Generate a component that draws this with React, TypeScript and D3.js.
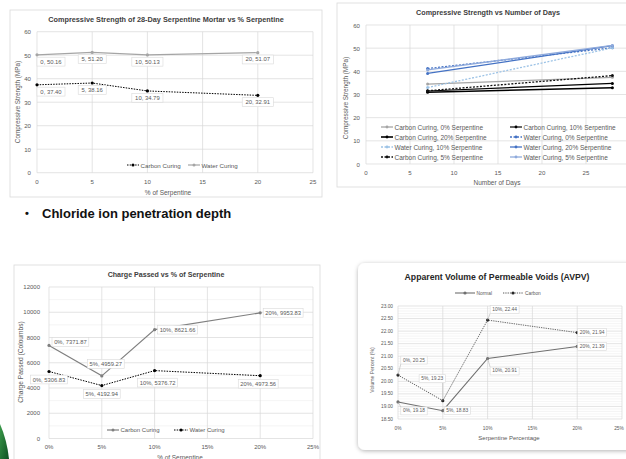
import * as d3 from "d3";

const FONT = "'Liberation Sans', Arial, Helvetica, sans-serif";
const TEXT = "#595959";
const TITLE = "#404040";
const GRID = "#D9D9D9";
const GRID_MINOR = "#EFEFEF";
const BORDER = "#D9D9D9";

// 28-day strength vs % serpentine
const SERP_PCT = [0, 5, 10, 20];
const CS28_CARBON = [37.4, 38.16, 34.79, 32.91];
const CS28_WATER = [50.16, 51.2, 50.13, 51.07];
const CS_Y_TICKS = [0, 10, 20, 30, 40, 50, 60];
const PCT_X_TICKS = [0, 5, 10, 15, 20, 25];

// strength vs number of days
const DAYS = [7, 28];
const DAY_X_TICKS = [0, 5, 10, 15, 20, 25, 30];
const DAY_SERIES = [
  "Carbon Curing, 0% Serpentine",
  "Carbon Curing, 10% Serpentine",
  "Carbon Curing, 20% Serpentine",
  "Water Curing, 0% Serpentine",
  "Water Curing, 10% Serpentine",
  "Water Curing, 20% Serpentine",
  "Carbon Curing, 5% Serpentine",
  "Water Curing, 5% Serpentine",
];
const DAY_VALUES = [
  [34.5, 37.4],
  [31.5, 34.79],
  [31.0, 32.91],
  [41.2, 50.16],
  [33.0, 50.13],
  [39.1, 51.07],
  [31.6, 38.16],
  [40.6, 51.2],
];

// charge passed
const RCPT_CARBON = [7371.87, 4959.27, 8621.66, 9953.83];
const RCPT_WATER = [5306.83, 4192.94, 5376.72, 4973.56];
const RCPT_Y_TICKS = [0, 2000, 4000, 6000, 8000, 10000, 12000];

// AVPV
const AVPV_NORMAL = [19.18, 18.83, 20.91, 21.39];
const AVPV_CARBON = [20.25, 19.23, 22.44, 21.94];
const AVPV_Y_TICKS = [18.5, 19, 19.5, 20, 20.5, 21, 21.5, 22, 22.5, 23];

// styles (kept apart from data)
const DAY_STYLES = [
  { color: "#A5A5A5", dash: "", w: 1.3 },
  { color: "#000000", dash: "", w: 1.2 },
  { color: "#000000", dash: "", w: 1.6 },
  { color: "#4472C4", dash: "2,1.5", w: 1.3 },
  { color: "#9DC3E6", dash: "2,1.5", w: 1.3 },
  { color: "#4472C4", dash: "", w: 1.3 },
  { color: "#111111", dash: "2,1.5", w: 1.3 },
  { color: "#8FAADC", dash: "", w: 1.3 },
];

const tw = (s: string, fs: number) => s.length * fs * 0.53;

function LabelBox({ cx, cy, text, fs, anchor = "middle" }: { cx: number; cy: number; text: string; fs: number; anchor?: string }) {
  const w = tw(text, fs) + 3;
  const h = fs + 3;
  const left = anchor === "start" ? cx : cx - w / 2;
  return (
    <g>
      <rect x={left} y={cy - h / 2} width={w} height={h} fill="white" stroke={BORDER} strokeWidth={0.6} />
      <text x={left + w / 2} y={cy} textAnchor="middle" dominantBaseline="central" fontSize={fs} fill={TEXT}>{text}</text>
    </g>
  );
}

function Grid({ x, y, xt, yt, minor = [] }: any) {
  const [x0, x1] = x.range();
  const [y0, y1] = y.range();
  return (
    <g>
      {minor.map((v: number) => <line key={"m" + v} x1={x0} x2={x1} y1={y(v)} y2={y(v)} stroke={GRID_MINOR} strokeWidth={0.6} />)}
      {yt.map((v: number) => <line key={"y" + v} x1={x0} x2={x1} y1={y(v)} y2={y(v)} stroke={GRID} strokeWidth={0.7} />)}
      {xt.map((v: number) => <line key={"x" + v} x1={x(v)} x2={x(v)} y1={y0} y2={y1} stroke={GRID} strokeWidth={0.7} />)}
    </g>
  );
}

function StrengthChart() {
  const x = d3.scaleLinear().domain([0, 25]).range([37, 313]);
  const y = d3.scaleLinear().domain([0, 60]).range([172.7, 31.7]);
  const line = d3.line<number>().x((_, i) => x(SERP_PCT[i])).y(d => y(d));
  const fmt = (p: number, v: number) => `${p}, ${v.toFixed(2)}`;
  return (
    <g>
      <rect x={10} y={10} width={312} height={187} fill="white" stroke={BORDER} strokeWidth={0.8} />
      <text x={166} y={19} textAnchor="middle" dominantBaseline="central" fontSize={7.3} fontWeight="bold" fill={TITLE}>
        Compressive Strength of 28-Day Serpentine Mortar vs % Serpentine
      </text>
      <Grid x={x} y={y} xt={PCT_X_TICKS} yt={CS_Y_TICKS} />
      {CS_Y_TICKS.map(v => <text key={v} x={31} y={y(v)} textAnchor="end" dominantBaseline="central" fontSize={6.1} fill={TEXT}>{v}</text>)}
      {PCT_X_TICKS.map(v => <text key={v} x={x(v)} y={181} textAnchor="middle" dominantBaseline="central" fontSize={6.1} fill={TEXT}>{v}</text>)}
      <text x={168} y={192} textAnchor="middle" dominantBaseline="central" fontSize={6.5} fill={TEXT}>% of Serpentine</text>
      <text transform={`translate(17,102) rotate(-90)`} textAnchor="middle" dominantBaseline="central" fontSize={6.4} fill={TEXT}>Compressive Strength (MPa)</text>
      <path d={line(CS28_WATER) || ""} fill="none" stroke="#A5A5A5" strokeWidth={1.2} />
      <path d={line(CS28_CARBON) || ""} fill="none" stroke="#000" strokeWidth={1} strokeDasharray="1.5,1.2" />
      {CS28_WATER.map((v, i) => <circle key={"w" + i} cx={x(SERP_PCT[i])} cy={y(v)} r={1.6} fill="#A5A5A5" />)}
      {CS28_CARBON.map((v, i) => <circle key={"c" + i} cx={x(SERP_PCT[i])} cy={y(v)} r={1.6} fill="#000" />)}
      {CS28_WATER.map((v, i) => <LabelBox key={"lw" + i} cx={x(SERP_PCT[i])} cy={y(v) + 6.8} text={fmt(SERP_PCT[i], v)} fs={5.9} anchor={i === 0 ? "start" : "middle"} />)}
      {CS28_CARBON.map((v, i) => <LabelBox key={"lc" + i} cx={x(SERP_PCT[i])} cy={y(v) + 6.8} text={fmt(SERP_PCT[i], v)} fs={5.9} anchor={i === 0 ? "start" : "middle"} />)}
      <g fontSize={6.2} fill={TEXT}>
        <line x1={127} x2={139} y1={165} y2={165} stroke="#000" strokeDasharray="1.5,1.2" />
        <circle cx={133} cy={165} r={1.5} fill="#000" />
        <text x={140.5} y={165} dominantBaseline="central">Carbon Curing</text>
        <line x1={188} x2={200} y1={165} y2={165} stroke="#A5A5A5" strokeWidth={1.2} />
        <circle cx={194} cy={165} r={1.5} fill="#A5A5A5" />
        <text x={201.5} y={165} dominantBaseline="central">Water Curing</text>
      </g>
    </g>
  );
}

function DaysChart() {
  const x = d3.scaleLinear().domain([0, 30]).range([366, 630]);
  const y = d3.scaleLinear().domain([0, 60]).range([164, 25]);
  const line = d3.line<number>().x((_, i) => x(DAYS[i])).y(d => y(d));
  const rows = [127, 137, 147, 157];
  return (
    <g>
      <rect x={337} y={3} width={300} height={184} fill="white" stroke={BORDER} strokeWidth={0.8} />
      <text x={488} y={12} textAnchor="middle" dominantBaseline="central" fontSize={7.2} fontWeight="bold" fill={TITLE}>
        Compressive Strength vs Number of Days
      </text>
      <Grid x={x} y={y} xt={DAY_X_TICKS} yt={CS_Y_TICKS} />
      {CS_Y_TICKS.map(v => <text key={v} x={360} y={y(v)} textAnchor="end" dominantBaseline="central" fontSize={6.1} fill={TEXT}>{v}</text>)}
      {DAY_X_TICKS.filter(v => x(v) < 620).map(v => <text key={v} x={x(v)} y={172} textAnchor="middle" dominantBaseline="central" fontSize={6.1} fill={TEXT}>{v}</text>)}
      <text x={497} y={182} textAnchor="middle" dominantBaseline="central" fontSize={6.5} fill={TEXT}>Number of Days</text>
      <text transform={`translate(345,98) rotate(-90)`} textAnchor="middle" dominantBaseline="central" fontSize={6.4} fill={TEXT}>Compressive Strength (MPa)</text>
      {DAY_VALUES.map((vals, s) => (
        <g key={s}>
          <path d={line(vals) || ""} fill="none" stroke={DAY_STYLES[s].color} strokeWidth={DAY_STYLES[s].w} strokeDasharray={DAY_STYLES[s].dash || undefined} />
          {vals.map((v, i) => <circle key={i} cx={x(DAYS[i])} cy={y(v)} r={1.5} fill={DAY_STYLES[s].color} />)}
        </g>
      ))}
      {DAY_SERIES.map((name, s) => {
        const col = s % 2;
        const ly = rows[Math.floor(s / 2)];
        const lx = col === 0 ? 381 : 510;
        const st = DAY_STYLES[s];
        return (
          <g key={name}>
            <line x1={lx} x2={lx + 12} y1={ly} y2={ly} stroke={st.color} strokeWidth={st.w} strokeDasharray={st.dash || undefined} />
            <circle cx={lx + 6} cy={ly} r={1.4} fill={st.color} />
            <text x={lx + 13.5} y={ly} dominantBaseline="central" fontSize={6.5} fill={TEXT}>{name}</text>
          </g>
        );
      })}
    </g>
  );
}

function ChargeChart() {
  const x = d3.scaleLinear().domain([0, 25]).range([49, 313]);
  const y = d3.scaleLinear().domain([0, 12000]).range([438.5, 287]);
  const line = d3.line<number>().x((_, i) => x(SERP_PCT[i])).y(d => y(d));
  const fmt = (p: number, v: number) => `${p}%, ${v.toFixed(2)}`;
  const minor = [1000, 3000, 5000, 7000, 9000, 11000];
  const carbonOff = [[3, -3.5, "start"], [4, -12, "middle"], [3, 0, "start"], [3, 0, "start"]];
  const waterOff = [[0, 8, "middle"], [0, 8.5, "middle"], [3, 12, "middle"], [-2, 8, "middle"]];
  return (
    <g>
      <rect x={14} y={265} width={306} height={200} fill="white" stroke={BORDER} strokeWidth={0.8} />
      <text x={166} y={275} textAnchor="middle" dominantBaseline="central" fontSize={7.1} fontWeight="bold" fill={TITLE}>
        Charge Passed vs % of Serpentine
      </text>
      <Grid x={x} y={y} xt={PCT_X_TICKS} yt={RCPT_Y_TICKS} minor={minor} />
      {RCPT_Y_TICKS.map(v => <text key={v} x={40} y={y(v)} textAnchor="end" dominantBaseline="central" fontSize={6} fill={TEXT}>{v}</text>)}
      {PCT_X_TICKS.map(v => <text key={v} x={x(v)} y={447} textAnchor="middle" dominantBaseline="central" fontSize={6} fill={TEXT}>{v}%</text>)}
      <text x={180} y={457} textAnchor="middle" dominantBaseline="central" fontSize={6.4} fill={TEXT}>% of Serpentine</text>
      <text transform={`translate(20,362) rotate(-90)`} textAnchor="middle" dominantBaseline="central" fontSize={6.6} fill={TEXT}>Charge Passed (Coloumbs)</text>
      <path d={line(RCPT_CARBON) || ""} fill="none" stroke="#7F7F7F" strokeWidth={1.2} />
      <path d={line(RCPT_WATER) || ""} fill="none" stroke="#000" strokeWidth={1} strokeDasharray="1.5,1.2" />
      {RCPT_CARBON.map((v, i) => <circle key={"c" + i} cx={x(SERP_PCT[i])} cy={y(v)} r={1.6} fill="#7F7F7F" />)}
      {RCPT_WATER.map((v, i) => <circle key={"w" + i} cx={x(SERP_PCT[i])} cy={y(v)} r={1.6} fill="#000" />)}
      {RCPT_CARBON.map((v, i) => <LabelBox key={"lc" + i} cx={x(SERP_PCT[i]) + (carbonOff[i][0] as number)} cy={y(v) + (carbonOff[i][1] as number)} text={fmt(SERP_PCT[i], v)} fs={5.8} anchor={carbonOff[i][2] as string} />)}
      {RCPT_WATER.map((v, i) => <LabelBox key={"lw" + i} cx={x(SERP_PCT[i]) + (waterOff[i][0] as number)} cy={y(v) + (waterOff[i][1] as number)} text={fmt(SERP_PCT[i], v)} fs={5.8} anchor={waterOff[i][2] as string} />)}
      <g fontSize={6} fill={TEXT}>
        <line x1={107} x2={119} y1={430} y2={430} stroke="#7F7F7F" strokeWidth={1.2} />
        <circle cx={113} cy={430} r={1.5} fill="#7F7F7F" />
        <text x={120.5} y={430} dominantBaseline="central">Carbon Curing</text>
        <line x1={174} x2={188} y1={430} y2={430} stroke="#000" strokeDasharray="1.5,1.2" />
        <circle cx={181} cy={430} r={1.5} fill="#000" />
        <text x={189.5} y={430} dominantBaseline="central">Water Curing</text>
      </g>
    </g>
  );
}

function AvpvChart() {
  const x = d3.scaleLinear().domain([0, 25]).range([398, 622]);
  const y = d3.scaleLinear().domain([18.5, 23]).range([419, 306]);
  const line = d3.line<number>().x((_, i) => x(SERP_PCT[i])).y(d => y(d));
  const fmt = (p: number, v: number) => `${p}%, ${v.toFixed(2)}`;
  const minor: number[] = [];
  AVPV_Y_TICKS.slice(0, -1).forEach(t => [0.1, 0.2, 0.3, 0.4].forEach(k => minor.push(t + k)));
  const carbonOff = [[16, -15], [-10.5, -22], [17, -10.5], [15, 0]];
  const normalOff = [[16, 9], [14.5, 0], [17, 12.5], [15, 0]];
  const fs = 4.9;
  const label = (v: number, i: number, off: number[], key: string) => {
    const px = x(SERP_PCT[i]), py = y(v);
    const cx = px + off[0], cy = py + off[1];
    const text = fmt(SERP_PCT[i], v);
    const w = tw(text, fs) + 3, h = fs + 3;
    const ex = Math.max(cx - w / 2, Math.min(cx + w / 2, px));
    const ey = Math.max(cy - h / 2, Math.min(cy + h / 2, py));
    const lead = Math.hypot(ex - px, ey - py) > 4;
    return (
      <g key={key}>
        {lead && <line x1={px} y1={py} x2={ex} y2={ey} stroke="#A6A6A6" strokeWidth={0.5} />}
        <LabelBox cx={cx} cy={cy} text={text} fs={fs} />
      </g>
    );
  };
  return (
    <g>
      <defs>
        <filter id="shadow" x="-10%" y="-10%" width="120%" height="120%">
          <feDropShadow dx={0} dy={1} stdDeviation={2.2} floodColor="#000" floodOpacity={0.3} />
        </filter>
      </defs>
      <rect x={358} y={263} width={290} height={187} rx={7} fill="white" filter="url(#shadow)" />
      <text x={497} y={277} textAnchor="middle" dominantBaseline="central" fontSize={8.7} fontWeight="bold" fill="#262626">
        Apparent Volume of Permeable Voids (AVPV)
      </text>
      <Grid x={x} y={y} xt={PCT_X_TICKS} yt={AVPV_Y_TICKS} minor={minor} />
      {AVPV_Y_TICKS.map(v => <text key={v} x={393} y={y(v)} textAnchor="end" dominantBaseline="central" fontSize={4.8} fill={TEXT}>{v.toFixed(2)}</text>)}
      {PCT_X_TICKS.map(v => <text key={v} x={Math.min(x(v), 619)} y={428} textAnchor="middle" dominantBaseline="central" fontSize={4.8} fill={TEXT}>{v}%</text>)}
      <text x={509} y={438} textAnchor="middle" dominantBaseline="central" fontSize={6} fill={TEXT}>Serpentine Percentage</text>
      <text transform={`translate(372,370) rotate(-90)`} textAnchor="middle" dominantBaseline="central" fontSize={5.1} fill={TEXT}>Volume Percent (%)</text>
      <path d={line(AVPV_NORMAL) || ""} fill="none" stroke="#6F6F6F" strokeWidth={1.1} />
      <path d={line(AVPV_CARBON) || ""} fill="none" stroke="#595959" strokeWidth={0.9} strokeDasharray="1.3,1" />
      {AVPV_NORMAL.map((v, i) => <circle key={"n" + i} cx={x(SERP_PCT[i])} cy={y(v)} r={1.6} fill="#6F6F6F" />)}
      {AVPV_CARBON.map((v, i) => <circle key={"c" + i} cx={x(SERP_PCT[i])} cy={y(v)} r={1.6} fill="#262626" />)}
      {AVPV_CARBON.map((v, i) => label(v, i, carbonOff[i], "lc" + i))}
      {AVPV_NORMAL.map((v, i) => label(v, i, normalOff[i], "ln" + i))}
      <g fontSize={4.8} fill={TEXT}>
        <line x1={455} x2={475} y1={293} y2={293} stroke="#6F6F6F" strokeWidth={1.1} />
        <circle cx={465} cy={293} r={1.6} fill="#6F6F6F" />
        <text x={476.5} y={293} dominantBaseline="central">Normal</text>
        <line x1={503} x2={523} y1={293} y2={293} stroke="#595959" strokeDasharray="1.3,1" />
        <circle cx={513} cy={293} r={1.6} fill="#262626" />
        <text x={525} y={293} dominantBaseline="central">Carbon</text>
      </g>
    </g>
  );
}

export default function App() {
  return (
    <div style={{ position: "absolute", left: 0, top: 0 }}>
      <svg width={626} height={459} style={{ display: "block", background: "white" }} fontFamily={FONT}>
        <defs>
          <linearGradient id="green" x1="0" y1="0" x2="1" y2="1">
            <stop offset="0" stopColor="#3A9A4A" />
            <stop offset="1" stopColor="#0E4F22" />
          </linearGradient>
        </defs>
        <StrengthChart />
        <DaysChart />
        <ChargeChart />
        <AvpvChart />
        <text x={27} y={213} textAnchor="middle" dominantBaseline="central" fontSize={11} fontWeight="bold" fill="#111">•</text>
        <text x={42} y={213} dominantBaseline="central" fontSize={13} fontWeight="bold" fill="#111">Chloride ion penetration depth</text>
        <path d="M0,424 Q7,440 9,459 L0,459 Z" fill="url(#green)" />
      </svg>
    </div>
  );
}
